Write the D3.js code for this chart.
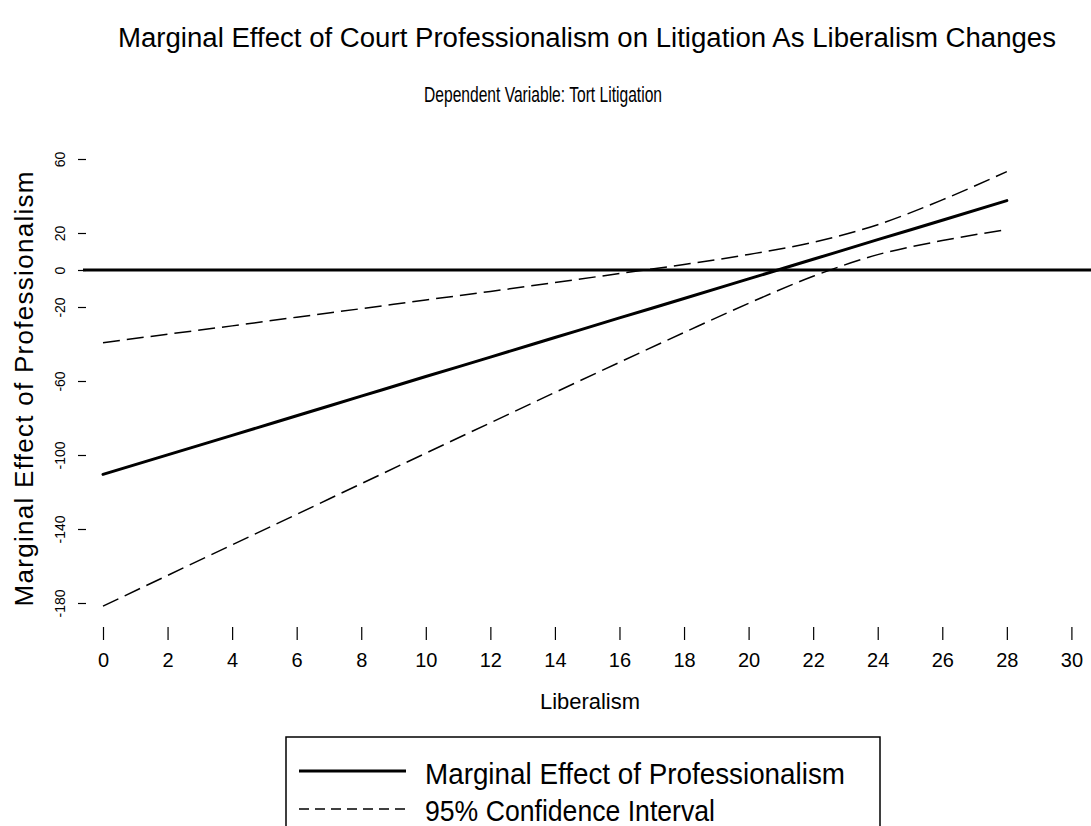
<!DOCTYPE html>
<html lang="en">
<head>
<meta charset="utf-8">
<title>Marginal Effect</title>
<script src="https://cdn.jsdelivr.net/npm/d3@7"></script>
<style>
  body { margin: 0; background: #fff; }
  svg { display: block; font-family: "Liberation Sans", Arial, sans-serif; }
  text { fill: #000; }
</style>
</head>
<body>
<div id="chart"></div>
<script>
var width = 1091,
    height = 826;

var liberalism = [0, 2, 4, 6, 8, 10, 12, 14, 16, 18, 20, 22, 24, 26, 28];
// marginal effect of professionalism
var effect = [-110.5, -99.9, -89.4, -78.8, -68.2, -57.6, -47.1, -36.5, -25.9, -15.4, -4.8, 5.8, 16.4, 26.9, 37.5];
// 95% confidence interval
var upperCI = [-39.3, -34.7, -30.2, -25.5, -20.9, -16.2, -11.6, -6.8, -1.9, 3.0, 8.4, 15.0, 24.5, 37.9, 53.2];
var lowerCI = [-181.7, -165.1, -148.6, -132.1, -115.5, -99.0, -82.6, -66.2, -49.9, -33.8, -18.0, -3.4, 8.3, 15.9, 21.8];

var xTicks = [0, 2, 4, 6, 8, 10, 12, 14, 16, 18, 20, 22, 24, 26, 28, 30];
var yTicks = [60, 20, 0, -20, -60, -100, -140, -180];

var svg = d3.select("#chart")
    .append("svg")
    .attr("width", width)
    .attr("height", height);

var x = d3.scaleLinear().domain([0, 30]).range([103, 1071.4]);
var y = d3.scaleLinear().domain([-180, 60]).range([603, 159]);

// titles
svg.append("text")
    .attr("x", 587).attr("y", 47)
    .attr("text-anchor", "middle")
    .attr("font-size", 27)
    .attr("textLength", 938)
    .attr("lengthAdjust", "spacingAndGlyphs")
    .text("Marginal Effect of Court Professionalism on Litigation As Liberalism Changes");

svg.append("text")
    .attr("x", 543).attr("y", 102)
    .attr("text-anchor", "middle")
    .attr("font-size", 22)
    .attr("textLength", 238)
    .attr("lengthAdjust", "spacingAndGlyphs")
    .text("Dependent Variable: Tort Litigation");

// y axis: ticks only, labels turned sideways (plain hyphen minus as in the original)
var yAxis = svg.append("g")
    .attr("transform", "translate(86,0)")
    .call(d3.axisLeft(y).tickValues(yTicks).tickSize(8).tickPadding(0).tickFormat(function(d) { return String(d); }));
yAxis.select(".domain").remove();
yAxis.selectAll(".tick line").attr("stroke", "#000").attr("stroke-width", 1.2);
yAxis.selectAll(".tick text")
    .attr("font-size", 14)
    .attr("font-family", "Liberation Sans, Arial, sans-serif")
    .attr("text-anchor", "middle")
    .attr("x", null).attr("dy", null)
    .attr("transform", "translate(-21,0) rotate(-90)");

svg.append("text")
    .attr("transform", "translate(33,389) rotate(-90)")
    .attr("text-anchor", "middle")
    .attr("font-size", 26)
    .attr("textLength", 435)
    .attr("lengthAdjust", "spacing")
    .text("Marginal Effect of Professionalism");

// x axis
var xAxis = svg.append("g")
    .attr("transform", "translate(0,627)")
    .call(d3.axisBottom(x).tickValues(xTicks).tickSizeOuter(0).tickPadding(0).tickFormat(function(d) { return String(d); }));
xAxis.select(".domain").remove();
xAxis.selectAll(".tick line").attr("stroke", "#000").attr("stroke-width", 1.2).attr("y1", 0).attr("y2", 13);
xAxis.selectAll(".tick text")
    .attr("font-size", 20)
    .attr("font-family", "Liberation Sans, Arial, sans-serif")
    .attr("dy", null)
    .attr("y", 40);

svg.append("text")
    .attr("x", 590).attr("y", 709)
    .attr("text-anchor", "middle")
    .attr("font-size", 22)
    .attr("textLength", 100)
    .attr("lengthAdjust", "spacingAndGlyphs")
    .text("Liberalism");

// zero reference line
svg.append("line")
    .attr("x1", 83).attr("x2", width)
    .attr("y1", y(0)).attr("y2", y(0))
    .attr("stroke", "#000")
    .attr("stroke-width", 3);

var rows = liberalism.map(function(d, i) {
  return { lib: d, eff: effect[i], hi: upperCI[i], lo: lowerCI[i] };
});

function lineFor(key) {
  return d3.line()
      .x(function(d) { return x(d.lib); })
      .y(function(d) { return y(d[key]); })
      .curve(d3.curveMonotoneX);
}

svg.append("path")
    .datum(rows)
    .attr("d", lineFor("hi"))
    .attr("fill", "none")
    .attr("stroke", "#000")
    .attr("stroke-width", 1.5)
    .attr("stroke-dasharray", "17,7");

svg.append("path")
    .datum(rows)
    .attr("d", lineFor("lo"))
    .attr("fill", "none")
    .attr("stroke", "#000")
    .attr("stroke-width", 1.5)
    .attr("stroke-dasharray", "17,7");

svg.append("path")
    .datum(rows)
    .attr("d", lineFor("eff"))
    .attr("fill", "none")
    .attr("stroke", "#000")
    .attr("stroke-width", 3)
    .attr("stroke-linecap", "round");

// legend (runs off the bottom of the page like the original)
var legend = svg.append("g");
legend.append("rect")
    .attr("x", 286).attr("y", 737)
    .attr("width", 594).attr("height", 140)
    .attr("fill", "none")
    .attr("stroke", "#000")
    .attr("stroke-width", 1.5);

legend.append("line")
    .attr("x1", 299).attr("x2", 406)
    .attr("y1", 771).attr("y2", 771)
    .attr("stroke", "#000").attr("stroke-width", 3);
legend.append("text")
    .attr("x", 425).attr("y", 784)
    .attr("font-size", 30)
    .attr("textLength", 420)
    .attr("lengthAdjust", "spacingAndGlyphs")
    .text("Marginal Effect of Professionalism");

legend.append("line")
    .attr("x1", 299).attr("x2", 406)
    .attr("y1", 809).attr("y2", 809)
    .attr("stroke", "#000").attr("stroke-width", 1.3)
    .attr("stroke-dasharray", "10,6");
legend.append("text")
    .attr("x", 425).attr("y", 821)
    .attr("font-size", 30)
    .attr("textLength", 290)
    .attr("lengthAdjust", "spacingAndGlyphs")
    .text("95% Confidence Interval");
</script>
</body>
</html>
